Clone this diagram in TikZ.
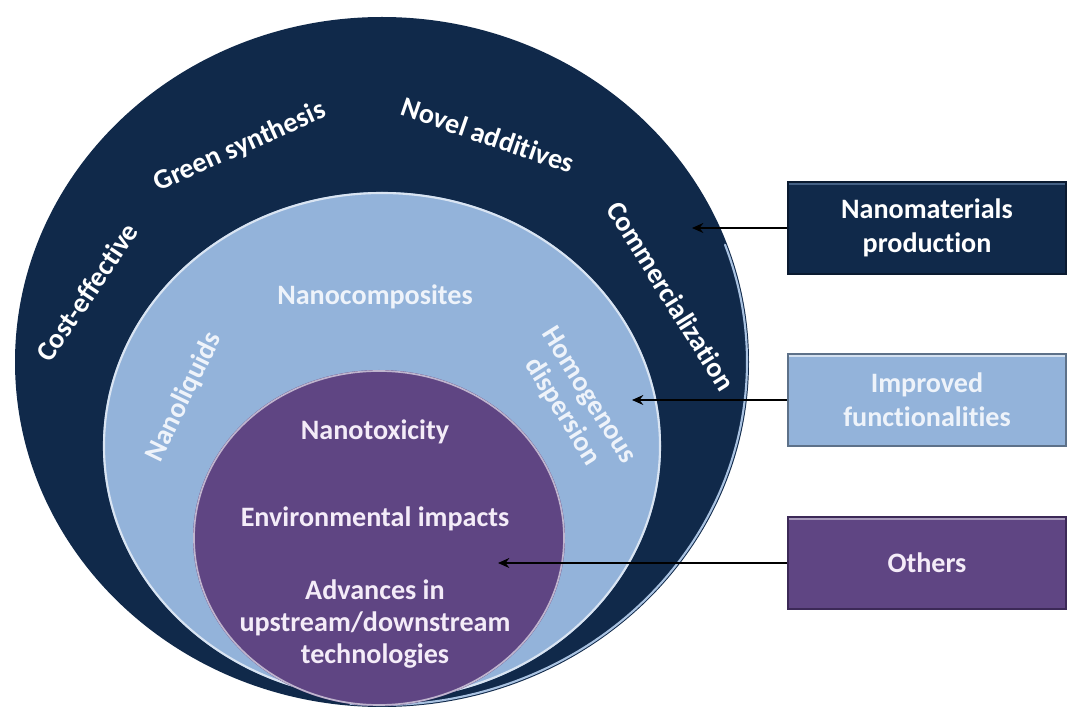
\documentclass[tikz,border=0pt]{standalone}
\usepackage{fontspec}
\setmainfont{Carlito}[Ligatures={NoCommon}]
\usetikzlibrary{arrows.meta}
\definecolor{navy}{HTML}{10294A}
\definecolor{navyedge}{HTML}{0A1A30}
\definecolor{sky}{HTML}{93B3DA}
\definecolor{skyedge}{HTML}{5D7189}
\definecolor{plum}{HTML}{5F4583}
\definecolor{plumedge}{HTML}{3C2957}
\definecolor{skytext}{HTML}{EEF3FA}
\definecolor{plumtext}{HTML}{F4ECF8}
\tikzset{
  ringtext/.style={text=white, inner sep=0pt},
  labelbox/.style={minimum width=6.95cm, minimum height=2.3cm, align=center,
    line width=1.2pt},
  pointer/.style={line width=1.6pt, black, -{Stealth[length=8pt,width=7pt]}},
}
\begin{document}
\begin{tikzpicture}[x=0.025cm,y=-0.025cm,
  font=\bfseries\fontsize{20}{24}\selectfont]
\useasboundingbox (0,0) rectangle (1068,714);
\fill[white] (0,0) rectangle (1068,714);

% nested rings
\fill[navy] (382,362) ellipse [x radius=367, y radius=345];
\draw[sky!80, line width=1.5pt, line cap=round] (382,362) ++(-20:365 and 343)
  arc [start angle=-20, end angle=95, x radius=365, y radius=343];
\fill[sky] (382,446) ellipse [x radius=279, y radius=254];
\draw[white!65!sky, line width=1.5pt] (382,446) ellipse [x radius=278, y radius=253];
\fill[plum] (379,538) ellipse [x radius=186, y radius=168];
\draw[plum!40!white, line width=1.2pt] (379,538) ellipse [x radius=185, y radius=167];

% outer ring labels
\node[ringtext, rotate=56]  (ce) at (87,292)  {Cost-effective};
\node[ringtext, rotate=24]  (gs) at (240,147) {Green synthesis};
\node[ringtext, rotate=-19] (na) at (488,135) {Novel additives};
\node[ringtext, rotate=-58] (cm) at (671,296) {Commercialization};

% middle ring labels
\node[ringtext, text=skytext] (nc) at (375,297) {Nanocomposites};
\node[ringtext, text=skytext, rotate=64] (nl) at (184,397) {Nanoliquids};
\node[ringtext, text=skytext, rotate=-58, align=center,
  font=\bfseries\fontsize{20}{22}\selectfont] (hd) at (575,404)
  {Homogenous\\dispersion};

% inner disc labels
\node[text=plumtext] (nt) at (375,432) {Nanotoxicity};
\node[text=plumtext] (ei) at (375,519) {Environmental impacts};
\node[text=plumtext, align=center, font=\bfseries\fontsize{20}{22.5}\selectfont]
  (ad) at (375,624) {Advances in\\upstream/downstream\\technologies};

% legend boxes
\node[labelbox, fill=navy, draw=navyedge, text=white] (b1) at (927,228)
  {Nanomaterials\\production};
\node[labelbox, fill=sky, draw=skyedge, text=skytext] (b2) at (927,400)
  {Improved\\functionalities};
\node[labelbox, fill=plum, draw=plumedge, text=plumtext] (b3) at (927,563)
  {Others};
% bevel highlight along the top of each box
\draw[navy!60!sky, line width=1pt] ([shift={(1pt,-2pt)}]b1.north west) -- ([shift={(-1pt,-2pt)}]b1.north east);
\draw[sky!40!white, line width=1pt] ([shift={(1pt,-2pt)}]b2.north west) -- ([shift={(-1pt,-2pt)}]b2.north east);
\draw[plum!55!white, line width=1pt] ([shift={(1pt,-2pt)}]b3.north west) -- ([shift={(-1pt,-2pt)}]b3.north east);

% pointers into the rings
\coordinate (t1) at (692,228);
\coordinate (t2) at (632,400);
\coordinate (t3) at (498,563);
\draw[pointer] (b1.west) -- (t1);
\draw[pointer] (b2.west) -- (t2);
\draw[pointer] (b3.west) -- (t3);
\end{tikzpicture}
\end{document}
